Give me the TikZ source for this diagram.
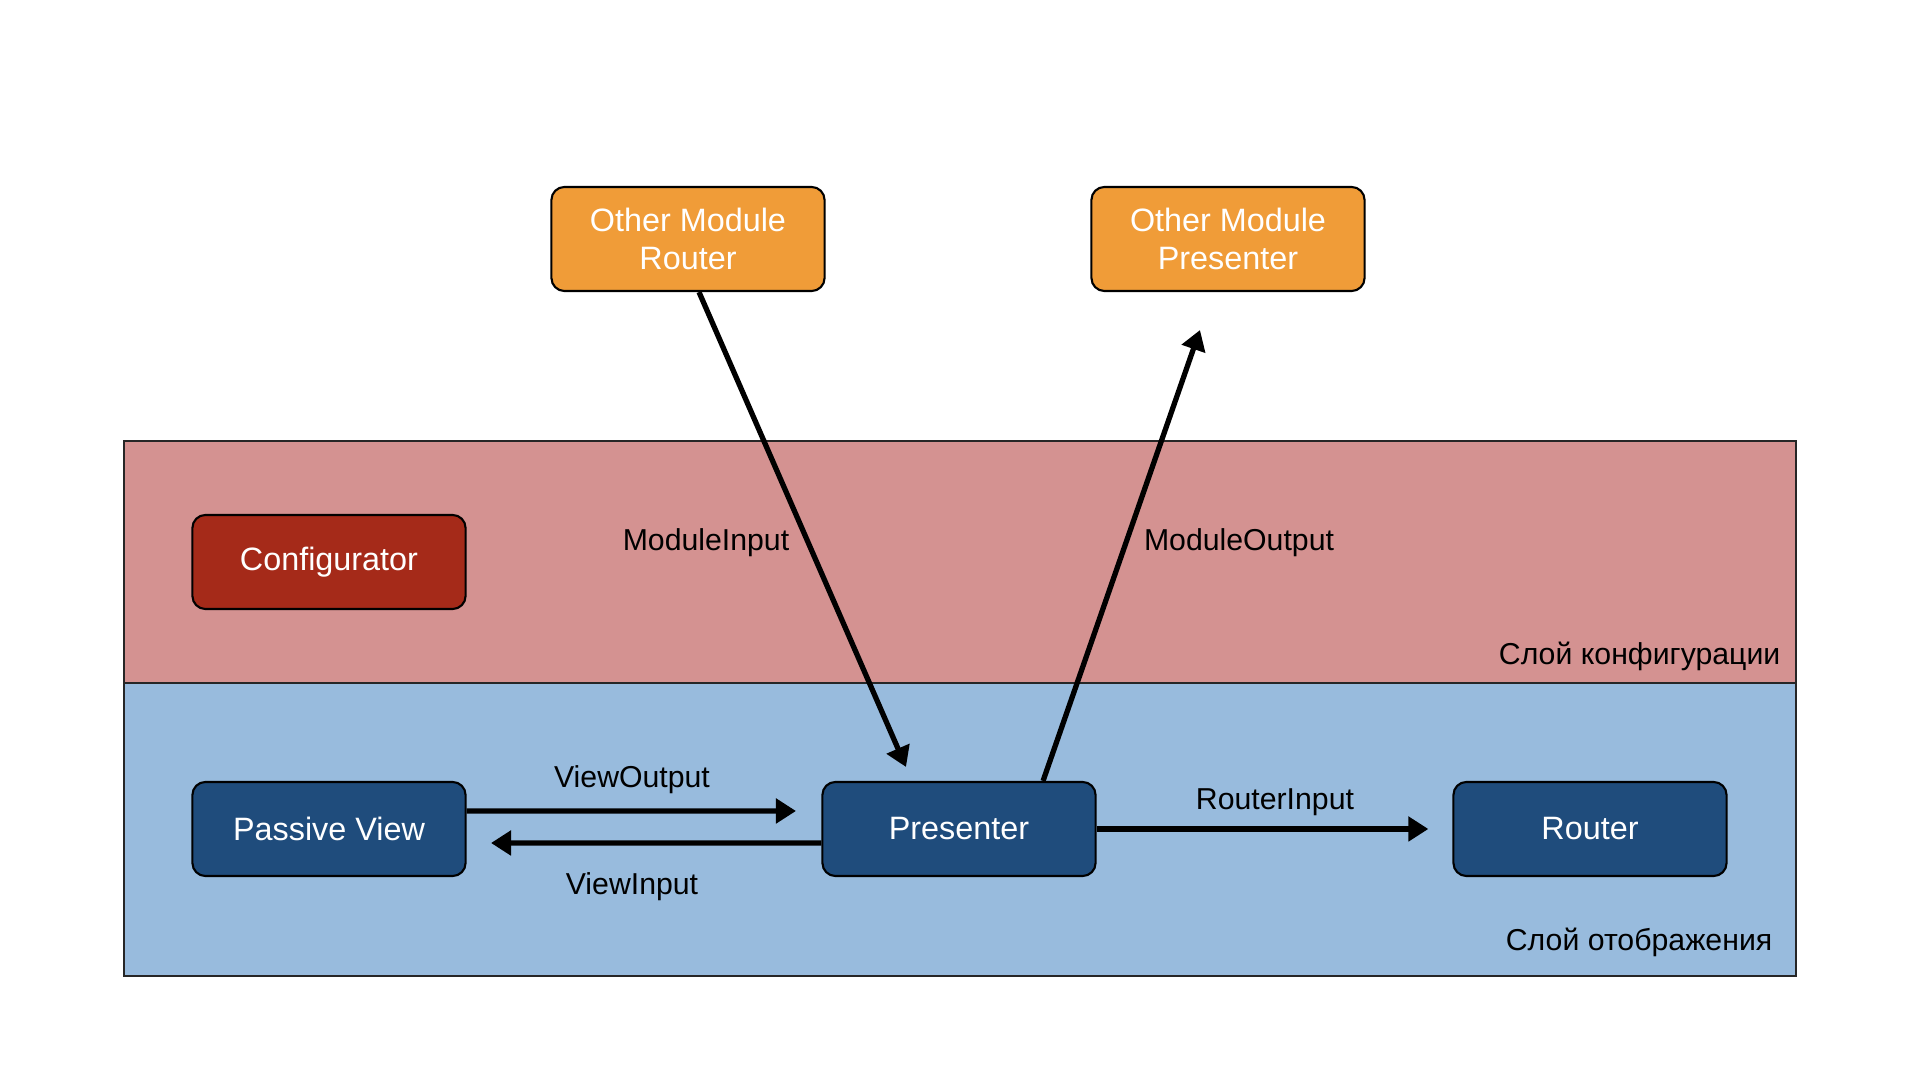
\documentclass[tikz,border=0pt]{standalone}
\usepackage{fontspec}
\setmainfont{Liberation Sans}
\usetikzlibrary{arrows.meta, positioning}

\definecolor{orangebox}{HTML}{F09C38}
\definecolor{redbox}{HTML}{A52A19}
\definecolor{bluebox}{HTML}{1F4C7C}
\definecolor{conflayer}{HTML}{D49291}
\definecolor{viewlayer}{HTML}{98BBDD}

\begin{document}
\begin{tikzpicture}[x=0.01cm, y=-0.01cm,
    box/.style={draw=black, line width=0.6pt, rounded corners=0.13cm,
        minimum width=2.73cm, minimum height=0.94cm, align=center,
        text=white, font=\fontsize{9.2}{10.6}\selectfont},
    layer/.style={draw=black!85, line width=0.5pt},
    lbl/.style={font=\fontsize{8.6}{10}\selectfont},
    link/.style={line width=1.5pt, -{Triangle[length=0.2cm, width=0.24cm]}}]

   \useasboundingbox (0,0) rectangle (1920,1080);

   % Layers
      \draw[layer, fill=conflayer] (124,441) rectangle (1796,683);
      \draw[layer, fill=viewlayer] (124,683) rectangle (1796,976);
      \node[lbl, anchor=east, inner sep=0pt] (confname) at (1781,656) {Слой конфигурации};
      \node[lbl, anchor=east, inner sep=0pt] (viewname) at (1773,942) {Слой отображения};

   % Nodes
      \node[box, fill=orangebox, minimum height=1.04cm] (omr) at (688,239)  {Other Module\\Router};
      \node[box, fill=orangebox, minimum height=1.04cm] (omp) at (1228,239) {Other Module\\Presenter};
      \node[box, fill=redbox]    (conf) at (329,562)  {Configurator};
      \node[box, fill=bluebox]   (pv)   at (329,829)  {Passive View};
      \node[box, fill=bluebox]   (pres) at (959,829)  {Presenter};
      \node[box, fill=bluebox]   (rt)   at (1590,829) {Router};

      \coordinate (miend) at (906,767);
      \coordinate (moend) at (1200,330);
      \coordinate (voend) at (796,811);
      \coordinate (viend) at (491,843);

   % Paths
      \draw[link] ([xshift=0.11cm]omr.south) -- (miend);
      \draw[link] ([xshift=0.84cm]pres.north) -- (moend);
      \draw[link] ([yshift=0.18cm]pv.east) -- (voend);
      \draw[link] ([yshift=-0.14cm]pres.west) -- (viend);
      \draw[link] (pres.east) -- ([xshift=-0.24cm]rt.west);

   % Labels
      \node[lbl] (milbl) at (706,543) {ModuleInput};
      \node[lbl] (molbl) at (1239,543) {ModuleOutput};
      \node[lbl] (volbl) at (632,780) {ViewOutput};
      \node[lbl] (vilbl) at (632,887) {ViewInput};
      \node[lbl] (rilbl) at (1275,802) {RouterInput};
\end{tikzpicture}
\end{document}
